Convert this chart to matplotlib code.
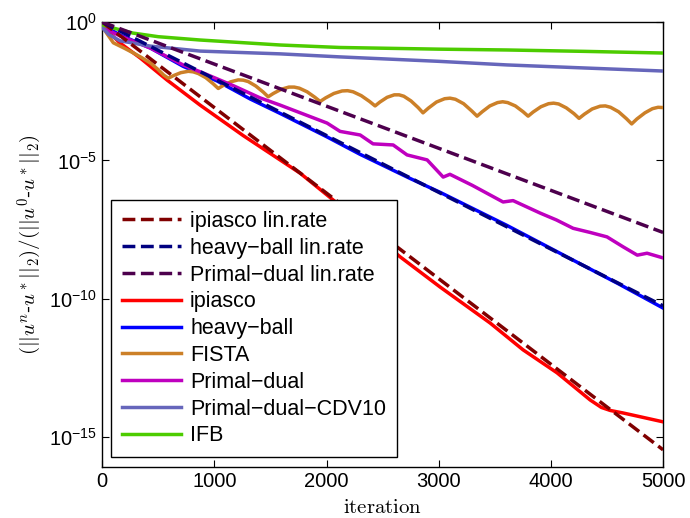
import matplotlib
matplotlib.use('Agg')
import matplotlib.pyplot as plt
import numpy as np

plt.rcParams['font.family'] = ['Liberation Sans', 'DejaVu Sans']
plt.rcParams['mathtext.fontset'] = 'custom'
plt.rcParams['mathtext.rm'] = 'Liberation Sans'
plt.rcParams['mathtext.it'] = 'Liberation Sans:italic'

# values, stored as log10 of the error ratio
ipiasco_rate_it = [0, 5000]
ipiasco_rate_lg = [0.0, -15.45]
heavy_rate_it = [0, 5000]
heavy_rate_lg = [0.0, -10.25]
pd_rate_it = [0, 5000]
pd_rate_lg = [0.0, -7.6]

ipiasco_it = [0, 80, 160, 340, 580, 873, 1257, 1765, 2060, 2656, 3012, 3458,
              3752, 4055, 4350, 4450, 4530, 4644, 4800, 5000]
ipiasco_lg = [-0.05, -0.45, -0.76, -1.3, -2.1, -3.0, -4.1, -5.46, -6.43, -8.48,
              -9.57, -10.87, -11.84, -12.67, -13.65, -13.92, -14.03, -14.12,
              -14.26, -14.44]

heavy_it = [0, 160, 430, 722, 1025, 1320, 1586, 2005, 2300, 2745, 3012, 3610,
            4198, 4600, 5000]
heavy_lg = [-0.1, -0.47, -0.94, -1.6, -2.13, -2.78, -3.3, -4.15, -4.78, -5.65,
            -6.15, -7.35, -8.6, -9.45, -10.33]

fista_it = [0, 40, 100, 150, 200, 280, 350, 430, 500, 550, 590,
            634, 701, 768, 812, 857, 924, 990, 1035,
            1080, 1146, 1213, 1258, 1302, 1369, 1436, 1480,
            1526, 1596, 1665, 1712, 1758, 1827, 1897, 1943,
            1992, 2066, 2139, 2188, 2237, 2310, 2384, 2433,
            2476, 2540, 2604, 2647, 2689, 2753, 2817, 2860,
            2908, 2980, 3053, 3101, 3149, 3222, 3294, 3342,
            3388, 3456, 3524, 3570, 3615, 3683, 3752, 3797,
            3842, 3911, 3979, 4024, 4069, 4137, 4206, 4251,
            4298, 4368, 4439, 4485, 4532, 4603, 4673, 4720,
            4767, 4838, 4905, 4955, 5000]
fista_lg = [-0.15, -0.4, -0.75, -0.85, -0.95, -1.12, -1.28, -1.48, -1.72, -1.92, -2.03,
            -1.94, -1.83, -1.78, -1.80, -1.86, -2.01, -2.23, -2.40,
            -2.29, -2.16, -2.09, -2.10, -2.15, -2.31, -2.53, -2.70,
            -2.58, -2.43, -2.35, -2.35, -2.39, -2.52, -2.72, -2.87,
            -2.74, -2.58, -2.49, -2.48, -2.52, -2.66, -2.87, -3.03,
            -2.89, -2.72, -2.63, -2.63, -2.68, -2.85, -3.09, -3.28,
            -3.11, -2.89, -2.77, -2.75, -2.79, -2.95, -3.21, -3.40,
            -3.24, -3.03, -2.91, -2.88, -2.91, -3.03, -3.24, -3.40,
            -3.25, -3.06, -2.95, -2.93, -2.96, -3.10, -3.31, -3.48,
            -3.33, -3.14, -3.04, -3.03, -3.08, -3.24, -3.49, -3.68,
            -3.50, -3.28, -3.13, -3.08, -3.09]

pd_it = [0, 160, 430, 722, 900, 1170, 1408, 1586, 1702, 2005, 2121, 2300, 2415,
         2594, 2718, 2897, 3040, 3100, 3300, 3574, 3663, 3904, 4050, 4198, 4350,
         4500, 4644, 4770, 4857, 5000]
pd_lg = [-0.2, -0.5, -0.94, -1.55, -1.84, -2.3, -2.74, -3.0, -3.18, -3.65, -3.95,
         -4.08, -4.4, -4.44, -4.8, -4.98, -5.6, -5.5, -5.9, -6.5, -6.45, -6.9,
         -7.15, -7.45, -7.6, -7.76, -8.12, -8.42, -8.35, -8.52]

cdv_it = [0, 60, 160, 430, 873, 1586, 2121, 3000, 3610, 4300, 5000]
cdv_lg = [-0.2, -0.45, -0.68, -0.87, -1.05, -1.15, -1.26, -1.42, -1.55, -1.66, -1.77]

ifb_it = [0, 100, 276, 500, 873, 1586, 2121, 3000, 3610, 4300, 5000]
ifb_lg = [-0.1, -0.22, -0.4, -0.53, -0.65, -0.83, -0.92, -0.98, -1.01, -1.06, -1.12]

ytick_vals = [1e-15, 1e-10, 1e-5, 1e0]
ytick_text = [r'$10^{-15}$', r'$10^{-10}$', r'$10^{-5}$', r'$10^{0}$']

fig = plt.figure(figsize=(6.9, 5.18), dpi=100)
ax = fig.add_axes([0.148, 0.0985, 0.813, 0.859])

lw = 2.5
ax.semilogy(ipiasco_rate_it, 10.0 ** np.array(ipiasco_rate_lg), '--', color='#800000', lw=lw, label='ipiasco lin.rate', zorder=4)
ax.semilogy(heavy_rate_it, 10.0 ** np.array(heavy_rate_lg), '--', color='#000080', lw=lw, label='heavy\u2212ball lin.rate', zorder=4)
ax.semilogy(pd_rate_it, 10.0 ** np.array(pd_rate_lg), '--', color='#4D004D', lw=lw, label='Primal\u2212dual lin.rate', zorder=4)
ax.semilogy(ipiasco_it, 10.0 ** np.array(ipiasco_lg), '-', color='#FF0000', lw=lw, label='ipiasco', zorder=3)
ax.semilogy(heavy_it, 10.0 ** np.array(heavy_lg), '-', color='#0000FF', lw=lw, label='heavy\u2212ball', zorder=3)
ax.semilogy(fista_it, 10.0 ** np.array(fista_lg), '-', color='#CC8028', lw=lw, label='FISTA', zorder=3)
ax.semilogy(pd_it, 10.0 ** np.array(pd_lg), '-', color='#BF00BF', lw=lw, label='Primal\u2212dual', zorder=3)
ax.semilogy(cdv_it, 10.0 ** np.array(cdv_lg), '-', color='#6666BB', lw=lw, label='Primal\u2212dual\u2212CDV10', zorder=3)
ax.semilogy(ifb_it, 10.0 ** np.array(ifb_lg), '-', color='#4DCC00', lw=lw, label='IFB', zorder=3)

ax.set_xlim(0, 5000)
ax.set_ylim(10 ** -16.07, 1)
ax.set_xticks([0, 1000, 2000, 3000, 4000, 5000])
ax.set_yticks(ytick_vals)
ax.set_yticklabels(ytick_text)
ax.minorticks_off()
ax.tick_params(direction='in', length=5, width=0.8, top=True, right=True, labelsize=14.5)
for s in ax.spines.values():
    s.set_linewidth(1.0)

ax.set_xlabel(r'$\mathrm{iteration}$', fontsize=15, math_fontfamily='cm', labelpad=5)
ax.set_ylabel(r'$(||u^n$-$u^*||_2)/(||u^0$-$u^*||_2)$', fontsize=15, math_fontfamily='cm', labelpad=4)

leg = ax.legend(loc='lower left', bbox_to_anchor=(0.016, 0.022), borderaxespad=0,
                fontsize=15.5, fancybox=False, framealpha=1, edgecolor='black',
                handlelength=2.75, handletextpad=0.42, labelspacing=0.27, borderpad=0.5)
leg.get_frame().set_linewidth(1.0)

fig.savefig('out.png', dpi=100)
